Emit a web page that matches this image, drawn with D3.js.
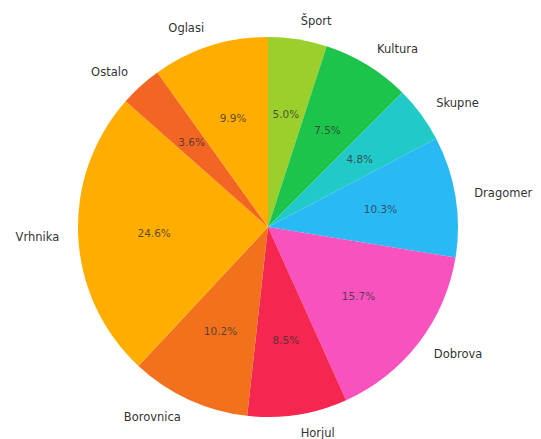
<!DOCTYPE html>
<meta charset="utf-8">
<script src="https://d3js.org/d3.v7.min.js"></script>
<style>
  body { margin: 0; background: #fff; }
  text { font-family: "DejaVu Sans", sans-serif; }
</style>
<body>
<div id="chart"></div>
<script>
  const width = 541, height = 439;

  // data, clockwise from 12 o'clock
  const labels = ["Šport", "Kultura", "Skupne", "Dragomer", "Dobrova", "Horjul", "Borovnica", "Vrhnika", "Ostalo", "Oglasi"];
  const values = [5.0, 7.5, 4.8, 10.3, 15.7, 8.5, 10.2, 24.6, 3.6, 9.9];
  const colors = ["#9bcf2c", "#1cc44c", "#22c9c9", "#29b9f5", "#f752be", "#f5264f", "#f2711c", "#ffad00", "#f26522", "#ffad00"];

  const cx = 268, cy = 227, r = 190;

  const svg = d3.select("#chart").append("svg")
    .attr("width", width)
    .attr("height", height);

  const g = svg.append("g").attr("transform", `translate(${cx},${cy})`);

  const pie = d3.pie().sort(null).value(d => d.v);
  const arcs = pie(labels.map((l, i) => ({ label: l, v: values[i], color: colors[i] })));
  const arc = d3.arc().innerRadius(0).outerRadius(r);

  g.selectAll("path")
    .data(arcs)
    .enter()
    .append("path")
    .attr("d", arc)
    .attr("fill", d => d.data.color);

  const mid = d => (d.startAngle + d.endAngle) / 2;

  // percentages at 0.6r
  g.selectAll("text.pct")
    .data(arcs)
    .enter()
    .append("text")
    .attr("class", "pct")
    .attr("x", d => Math.sin(mid(d)) * r * 0.6)
    .attr("y", d => -Math.cos(mid(d)) * r * 0.6)
    .attr("text-anchor", "middle")
    .attr("dominant-baseline", "central")
    .style("font-size", "10.5px")
    .style("fill", "#333")
    .style("fill-opacity", 0.8)
    .text(d => d.data.v.toFixed(1) + "%");

  // labels at 1.1r
  g.selectAll("text.lbl")
    .data(arcs)
    .enter()
    .append("text")
    .attr("class", "lbl")
    .attr("x", d => Math.sin(mid(d)) * r * 1.1)
    .attr("y", d => -Math.cos(mid(d)) * r * 1.1)
    .attr("text-anchor", d => Math.sin(mid(d)) >= 0 ? "start" : "end")
    .attr("dominant-baseline", "central")
    .style("font-size", "11.5px")
    .style("fill", "#333")
    .text(d => d.data.label);
</script>
</body>
